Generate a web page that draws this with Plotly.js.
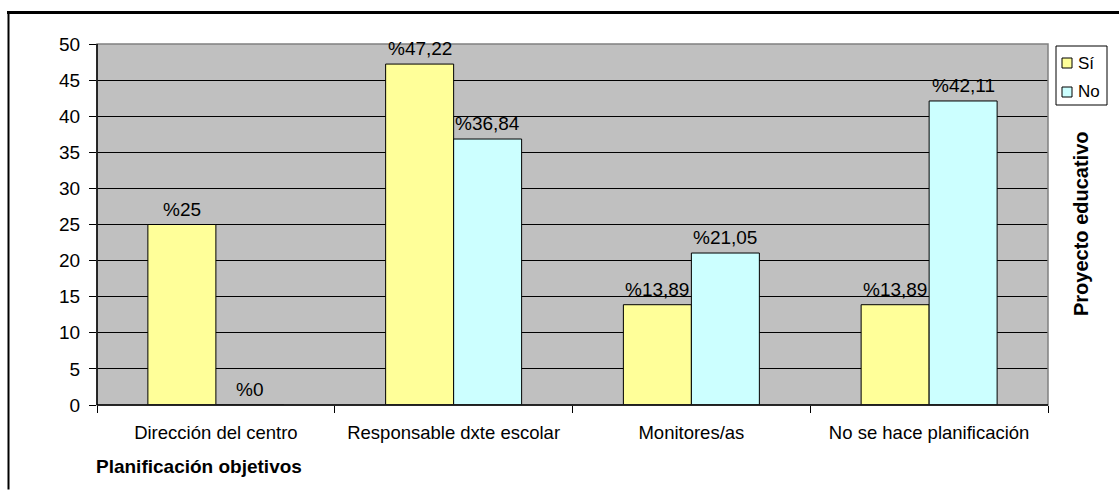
<!DOCTYPE html>
<html>
<head>
<meta charset="utf-8">
<script src="https://cdn.plot.ly/plotly-3.0.1.min.js"></script>
<style>html,body{margin:0;padding:0;background:#fff;}#chart{width:1120px;height:490px;}</style>
</head>
<body>
<div id="chart"></div>
<script>
const categories = ['Dirección del centro', 'Responsable dxte escolar', 'Monitores/as', 'No se hace planificación'];
const seriesNames = ['Sí', 'No'];
const siValues = [25, 47.22, 13.89, 13.89];
const noValues = [0, 36.84, 21.05, 42.11];
const yTicks = [0, 5, 10, 15, 20, 25, 30, 35, 40, 45, 50];
const xAxisTitle = 'Planificación objetivos';
const sideTitle = 'Proyecto educativo';

const W = 1120, H = 490;
const M = {l: 97, r: 72, t: 44, b: 85};
const PW = W - M.l - M.r, PH = H - M.t - M.b;
const px = x => (x - M.l) / PW;
const py = y => (H - M.b - y) / PH;

const FONT = '"Liberation Sans", Arial, sans-serif';
const colors = ['#ffff99', '#ccffff'];
const seriesValues = [siValues, noValues];

const traces = seriesValues.map((vals, s) => ({
  type: 'bar',
  name: seriesNames[s],
  x: categories,
  y: vals,
  marker: {color: colors[s], line: {color: '#000', width: 1}},
  showlegend: false,
  hoverinfo: 'x+y'
}));

const fmt = v => '%' + String(v).replace('.', ',');
const annotations = [];
const halfBar = 34;
seriesValues.forEach((vals, s) => {
  vals.forEach((v, i) => {
    annotations.push({
      x: categories[i], y: v, xref: 'x', yref: 'y',
      text: fmt(v), showarrow: false,
      xanchor: 'center', yanchor: 'bottom',
      xshift: s === 0 ? -halfBar : halfBar, yshift: 3,
      font: {family: FONT, size: 19, color: '#000'}
    });
  });
});

annotations.push({
  xref: 'paper', yref: 'paper', x: px(94), y: py(466),
  xanchor: 'left', yanchor: 'middle', showarrow: false,
  text: '<b>' + xAxisTitle + '</b>',
  font: {family: FONT, size: 19, color: '#000'}
});
annotations.push({
  xref: 'paper', yref: 'paper', x: px(1081), y: py(224),
  xanchor: 'center', yanchor: 'middle', showarrow: false, textangle: -90,
  text: '<b>' + sideTitle + '</b>',
  font: {family: FONT, size: 20, color: '#000'}
});

const shapes = [
  {type: 'line', xref: 'paper', yref: 'paper', x0: px(7), x1: px(1119), y0: py(12.5), y1: py(12.5),
   line: {color: '#000', width: 3}, layer: 'above'},
  {type: 'line', xref: 'paper', yref: 'paper', x0: px(8.5), x1: px(8.5), y0: py(11), y1: py(489.5),
   line: {color: '#000', width: 2}, layer: 'above'},
  {type: 'rect', xref: 'paper', yref: 'paper', x0: 0, y0: 0, x1: 1, y1: 1,
   line: {color: '#808080', width: 1.5}, fillcolor: 'rgba(0,0,0,0)', layer: 'above'},
  {type: 'line', xref: 'paper', yref: 'paper', x0: 0, y0: 0, x1: 0, y1: 1,
   line: {color: '#000', width: 1.5}, layer: 'above'},
  {type: 'line', xref: 'paper', yref: 'paper', x0: 0, y0: 0, x1: 1, y1: 0,
   line: {color: '#000', width: 1.5}, layer: 'above'},
  {type: 'rect', xref: 'paper', yref: 'paper', x0: px(1056), y0: py(46), x1: px(1107), y1: py(105),
   line: {color: '#000', width: 1}, fillcolor: '#fff'}
];
const legendRows = [63, 92];
seriesNames.forEach((n, s) => {
  const cy = legendRows[s];
  shapes.push({type: 'rect', xref: 'paper', yref: 'paper',
    x0: px(1062), x1: px(1072), y0: py(cy - 5), y1: py(cy + 5),
    line: {color: '#000', width: 1}, fillcolor: colors[s]});
  annotations.push({xref: 'paper', yref: 'paper', x: px(1076), y: py(cy),
    xanchor: 'left', yanchor: 'middle', showarrow: false, text: n,
    font: {family: FONT, size: 17, color: '#000'}});
});

const layout = {
  width: W, height: H,
  margin: M,
  paper_bgcolor: '#fff',
  plot_bgcolor: '#c0c0c0',
  font: {family: FONT, size: 18, color: '#000'},
  barmode: 'group',
  bargap: 0.428,
  bargroupgap: 0,
  showlegend: false,
  xaxis: {
    type: 'category',
    showgrid: false,
    ticks: 'outside', tickson: 'boundaries', ticklen: 7, tickwidth: 1, tickcolor: '#000',
    showline: false,
    ticklabelstandoff: 14,
    tickfont: {family: FONT, size: 18.5, color: '#000'},
    zeroline: false
  },
  yaxis: {
    range: [0, 50],
    tickvals: yTicks,
    ticktext: yTicks.map(String),
    showgrid: true, gridcolor: '#000', gridwidth: 1,
    ticks: 'outside', ticklen: 7, tickwidth: 1, tickcolor: '#000',
    showline: false,
    zeroline: false,
    ticklabelstandoff: 5,
    tickfont: {family: FONT, size: 19, color: '#000'}
  },
  shapes: shapes,
  annotations: annotations
};

Plotly.newPlot('chart', traces, layout, {displayModeBar: false, staticPlot: true});
</script>
</body>
</html>
